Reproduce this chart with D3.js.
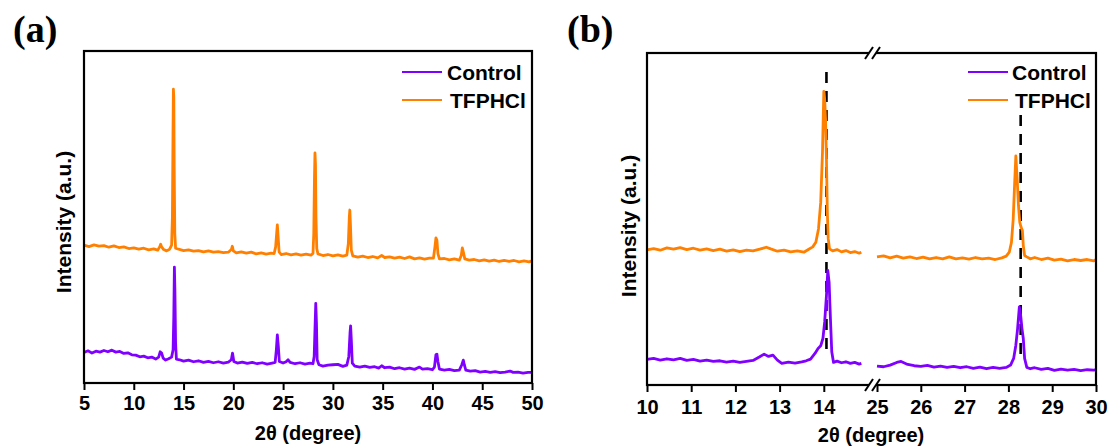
<!DOCTYPE html>
<html>
<head>
<meta charset="utf-8">
<script src="https://cdn.jsdelivr.net/npm/d3@7"></script>
<style>
  html, body { margin: 0; padding: 0; background: #fff; }
  svg { display: block; }
  text { font-family: "Liberation Sans", Arial, sans-serif; font-weight: bold; fill: #000; }
  .panel-tag { font-family: "Liberation Serif", "Times New Roman", serif; font-weight: bold; }
</style>
</head>
<body>
<svg id="chart" width="1112" height="446"></svg>
<script>
// ---------- data: [2θ (degree), intensity (a.u., offset-stacked)] ----------
const seriesNames = ["Control", "TFPHCl"];
const seriesColors = ["#8000FF", "#FF8000"];

// Panel (a): full scan 5–50°
const controlA = [
  [5.0,9.2],[5.4,9.7],[5.8,9.0],[6.2,9.6],[6.6,9.3],[7.0,9.8],[7.4,9.4],[7.8,9.9],[8.2,9.3],[8.6,9.5],
  [9.0,8.9],[9.4,9.1],[9.8,8.5],[10.2,8.4],[10.6,7.9],[11.0,8.1],[11.4,7.6],[11.8,7.8],[12.2,7.2],[12.5,7.8],
  [12.65,9.4],[12.8,9.0],[12.95,7.5],[13.2,6.9],[13.5,7.3],[13.8,7.8],[13.95,10],[14.02,20],[14.08,34.9],[14.13,28],
  [14.2,12],[14.28,7.2],[14.6,7.0],[15.0,6.6],[15.5,6.9],[16.0,6.4],[16.5,6.7],[17.0,6.2],[17.5,6.5],[18.0,6.1],
  [18.5,6.4],[19.0,6.0],[19.5,6.3],[19.8,7.0],[19.92,9.0],[20.05,6.5],[20.4,6.0],[20.9,6.3],[21.4,5.9],[21.9,6.2],
  [22.4,5.8],[22.9,6.1],[23.4,5.7],[23.9,6.0],[24.2,6.2],[24.32,10],[24.42,14.5],[24.52,11],[24.62,6.5],[25.0,6.0],
  [25.3,6.4],[25.5,7.0],[25.7,6.2],[26.2,5.8],[26.7,6.1],[27.2,5.7],[27.7,6.0],[28.0,5.8],[28.12,8],[28.2,16],
  [28.28,24.0],[28.35,18],[28.42,7],[28.6,5.5],[29.0,5.1],[29.5,5.4],[30.0,5.5],[30.5,5.6],[31.0,5.0],[31.4,5.4],
  [31.6,8],[31.72,15],[31.78,17.2],[31.85,13],[31.95,6],[32.2,5.1],[32.7,4.8],[33.2,5.1],[33.7,4.7],[34.2,4.9],
  [34.6,4.5],[34.9,5.2],[35.2,4.6],[35.7,4.8],[36.2,4.3],[36.7,4.6],[37.2,4.2],[37.7,4.5],[38.2,4.1],[38.7,4.8],
  [39.0,4.2],[39.5,4.3],[40.0,4.0],[40.2,4.8],[40.35,8.5],[40.45,8.7],[40.55,6.5],[40.7,4.2],[41.2,3.9],[41.7,4.1],
  [42.2,3.7],[42.7,3.9],[42.95,5.5],[43.1,6.9],[43.2,5.5],[43.35,3.9],[43.8,3.6],[44.3,3.7],[44.8,3.3],[45.3,3.5],
  [45.8,3.2],[46.3,3.4],[46.8,3.1],[47.3,3.3],[47.8,3.6],[48.1,3.2],[48.6,3.3],[49.1,3.0],[49.6,3.2],[50.0,3.2]
];
const tfphclA = [
  [5.0,41.5],[5.5,41.1],[6.0,41.6],[6.5,41.2],[7.0,41.4],[7.5,40.9],[8.0,41.3],[8.5,40.8],[9.0,41.0],[9.5,40.5],
  [10.0,40.7],[10.5,40.3],[11.0,40.6],[11.5,40.1],[12.0,40.4],[12.4,40.0],[12.6,41.0],[12.7,41.8],[12.8,41.0],[13.0,40.2],
  [13.3,39.8],[13.6,40.3],[13.8,41.5],[13.88,50],[13.94,75],[13.98,88.5],[14.02,86],[14.06,65],[14.12,45],[14.2,40.6],
  [14.5,40.3],[15.0,39.9],[15.5,40.1],[16.0,39.7],[16.5,39.9],[17.0,39.5],[17.5,39.8],[18.0,39.4],[18.5,39.6],[19.0,39.3],
  [19.5,39.4],[19.8,40.2],[19.9,41.2],[20.0,39.8],[20.3,39.2],[20.8,39.5],[21.3,39.1],[21.8,39.4],[22.3,38.9],[22.8,39.2],
  [23.3,38.8],[23.8,39.1],[24.1,39.0],[24.25,41],[24.35,45],[24.42,47.6],[24.5,44],[24.6,39.5],[24.8,38.7],[25.3,39.0],
  [25.8,38.6],[26.3,38.9],[26.8,38.5],[27.3,38.8],[27.8,38.5],[28.0,39.0],[28.08,45],[28.15,62],[28.2,69.3],[28.25,66],
  [28.3,50],[28.38,40.5],[28.5,38.9],[29.0,38.4],[29.5,38.7],[30.0,38.3],[30.5,38.6],[31.0,38.2],[31.4,38.5],[31.55,42],
  [31.65,50],[31.7,52.1],[31.76,48],[31.85,40],[32.0,38.3],[32.5,37.9],[33.0,38.2],[33.5,37.8],[34.0,38.1],[34.5,37.7],
  [34.9,38.4],[35.2,37.8],[35.7,38.0],[36.2,37.6],[36.7,37.9],[37.2,37.5],[37.7,38.0],[38.2,37.4],[38.7,37.7],[39.2,37.3],
  [39.7,37.6],[40.1,37.6],[40.25,41],[40.35,43.7],[40.45,43],[40.55,39],[40.7,37.4],[41.2,37.5],[41.7,37.1],[42.2,37.4],
  [42.7,37.0],[42.9,38.5],[43.0,40.7],[43.1,39.5],[43.25,37.4],[43.7,37.0],[44.2,37.2],[44.7,36.8],[45.2,37.1],[45.7,36.7],
  [46.2,37.0],[46.7,36.6],[47.2,36.9],[47.7,36.6],[48.2,36.9],[48.7,36.5],[49.2,36.8],[49.7,36.5],[50.0,36.8]
];

// Panel (b): zoom on 10–14.85° and 25–30° (broken axis)
const controlBLow = [
  [10.0,7.7],[10.15,8.0],[10.3,7.5],[10.45,7.9],[10.6,7.6],[10.75,8.0],[10.9,7.4],[11.05,7.7],[11.2,7.2],[11.35,7.5],
  [11.5,7.1],[11.65,7.3],[11.8,6.9],[11.95,7.2],[12.1,6.8],[12.25,7.1],[12.4,7.4],[12.55,8.5],[12.65,9.3],[12.75,8.6],
  [12.85,9.0],[12.95,7.5],[13.05,6.5],[13.2,6.9],[13.35,6.6],[13.5,7.0],[13.6,7.3],[13.7,7.8],[13.8,9.5],[13.87,11.0],
  [13.93,11.8],[13.98,14],[14.02,19],[14.06,27],[14.09,34.5],[14.12,31],[14.15,20],[14.18,10],[14.22,6.8],[14.3,7.2],
  [14.4,6.7],[14.5,7.0],[14.6,6.5],[14.7,6.8],[14.8,6.3],[14.85,6.5]
];
const controlBHigh = [
  [25.0,5.7],[25.15,5.5],[25.3,6.0],[25.45,6.8],[25.55,7.1],[25.7,6.2],[25.85,5.8],[26.0,5.6],[26.15,5.9],[26.3,5.4],
  [26.45,5.7],[26.6,5.3],[26.75,5.6],[26.9,5.2],[27.05,5.5],[27.2,5.0],[27.35,5.4],[27.5,4.9],[27.65,5.3],[27.8,5.0],
  [27.95,5.3],[28.05,6.0],[28.12,8],[28.17,12],[28.21,17],[28.25,23.5],[28.28,21],[28.31,17],[28.34,14],[28.37,8],
  [28.42,5.3],[28.5,4.9],[28.6,5.2],[28.75,4.7],[28.9,5.0],[29.05,4.4],[29.2,4.8],[29.35,4.5],[29.5,4.7],[29.65,4.3],
  [29.8,4.6],[29.95,4.5],[30.0,4.6]
];
const tfphclBLow = [
  [10.0,40.7],[10.15,41.1],[10.3,40.6],[10.45,41.3],[10.6,40.9],[10.75,41.4],[10.9,40.8],[11.05,41.2],[11.2,40.6],[11.35,41.0],
  [11.5,40.5],[11.65,40.9],[11.8,40.3],[11.95,40.7],[12.1,40.2],[12.25,40.6],[12.4,40.4],[12.55,40.9],[12.7,41.5],[12.8,41.0],
  [12.95,40.3],[13.1,40.6],[13.25,40.1],[13.4,40.4],[13.55,40.0],[13.65,40.8],[13.75,41.6],[13.82,43],[13.88,47],[13.93,55],
  [13.97,70],[14.0,88.4],[14.02,86],[14.04,80],[14.06,68],[14.08,52],[14.1,44],[14.13,41.0],[14.2,40.4],[14.3,40.8],
  [14.4,40.1],[14.5,40.5],[14.6,39.9],[14.7,40.2],[14.8,39.7],[14.85,40.0]
];
const tfphclBHigh = [
  [25.0,38.6],[25.15,38.9],[25.3,38.3],[25.45,38.8],[25.6,38.2],[25.75,38.6],[25.9,38.1],[26.05,38.5],[26.2,38.0],[26.35,38.4],
  [26.5,38.0],[26.65,38.6],[26.8,38.0],[26.95,38.3],[27.1,37.9],[27.25,38.4],[27.4,38.0],[27.55,38.2],[27.7,37.8],[27.85,38.3],
  [27.95,38.8],[28.02,40],[28.07,43],[28.11,50],[28.14,60],[28.17,69],[28.2,62],[28.23,54],[28.26,49],[28.29,47.5],
  [28.32,46.5],[28.34,42],[28.37,39],[28.42,38.6],[28.5,38.0],[28.6,38.4],[28.75,37.8],[28.9,38.2],[29.05,37.6],[29.2,37.9],
  [29.35,37.4],[29.5,37.8],[29.65,37.5],[29.8,37.8],[29.95,37.4],[30.0,37.8]
];

// Reference lines through the Control peak positions (2θ, top, bottom)
const refLines = [[14.06, 94.3, 8.5], [28.28, 81.3, 8.5]];

// Tick values
const ticksA = [5, 10, 15, 20, 25, 30, 35, 40, 45, 50];
const minorTicksA = [7.5, 12.5, 17.5, 22.5, 27.5, 32.5, 37.5, 42.5, 47.5];
const ticksB = [10, 11, 12, 13, 14, 25, 26, 27, 28, 29, 30];
const minorTicksB = [10.5, 11.5, 12.5, 13.5, 14.5, 25.5, 26.5, 27.5, 28.5, 29.5];

// ---------- drawing ----------
const svg = d3.select("#chart");

const xA = d3.scaleLinear().domain([5, 50]).range([84, 532]);
const yA = d3.scaleLinear().domain([0, 100]).range([383, 51]);
const xB = d3.scaleLinear().domain([10, 15, 25, 30]).range([647, 868, 877, 1096]);
const yB = d3.scaleLinear().domain([0, 100]).range([385, 53]);

function drawSeries(g, data, x, y, color) {
  const line = d3.line().x(d => x(d[0])).y(d => y(d[1]));
  g.append("path").datum(data)
    .attr("fill", "none").attr("stroke", color)
    .attr("stroke-width", 2.8).attr("stroke-linejoin", "round")
    .attr("d", line);
}

function drawXAxis(g, x, y0, major, minor, pad) {
  const ax = g.append("g").attr("transform", `translate(0,${y0})`);
  ax.call(d3.axisBottom(x).tickValues(minor).tickSize(4).tickFormat(""));
  ax.call(d3.axisBottom(x).tickValues(major).tickSize(7).tickPadding(pad).tickFormat(d3.format("d")));
  ax.selectAll(".domain").remove();
  ax.selectAll("line").attr("stroke", "#000").attr("stroke-width", 2);
  ax.selectAll("text").style("font-size", "20px").style("font-family", "'Liberation Sans', Arial, sans-serif")
    .style("font-weight", "bold").attr("fill", "#000");
}

function drawLegend(g, x0, y0, textX) {
  seriesNames.forEach((name, i) => {
    const yy = y0 + i * 28;
    g.append("line").attr("x1", x0).attr("x2", x0 + 40).attr("y1", yy).attr("y2", yy)
      .attr("stroke", seriesColors[i]).attr("stroke-width", 2.2);
    g.append("text").attr("x", textX + i * 3).attr("y", yy + 7.5)
      .style("font-size", "21px").text(name);
  });
}

// ----- panel (a) -----
const gA = svg.append("g");
drawSeries(gA, tfphclA, xA, yA, seriesColors[1]);
drawSeries(gA, controlA, xA, yA, seriesColors[0]);
gA.append("rect").attr("x", 84).attr("y", 51).attr("width", 448).attr("height", 332)
  .attr("fill", "none").attr("stroke", "#000").attr("stroke-width", 2.2);
drawXAxis(gA, xA, 383, ticksA, minorTicksA, 6);
gA.append("text").attr("x", 308).attr("y", 440).attr("text-anchor", "middle")
  .style("font-size", "20px").text("2θ (degree)");
gA.append("text").attr("transform", "translate(71,222) rotate(-90)").attr("text-anchor", "middle")
  .style("font-size", "21px").text("Intensity (a.u.)");
drawLegend(gA, 402, 72, 447);
gA.append("text").attr("class", "panel-tag").attr("x", 13).attr("y", 42)
  .style("font-size", "38px").text("(a)");

// ----- panel (b) -----
const gB = svg.append("g");
gB.selectAll("path.ref").data(refLines).enter().append("line")
  .attr("x1", d => xB(d[0])).attr("x2", d => xB(d[0]))
  .attr("y1", d => yB(d[1])).attr("y2", d => yB(d[2]))
  .attr("stroke", "#000").attr("stroke-width", 2.6).attr("stroke-dasharray", "11,8");
[tfphclBLow, tfphclBHigh].forEach(s => drawSeries(gB, s, xB, yB, seriesColors[1]));
[controlBLow, controlBHigh].forEach(s => drawSeries(gB, s, xB, yB, seriesColors[0]));
gB.append("rect").attr("x", 647).attr("y", 53).attr("width", 449).attr("height", 332)
  .attr("fill", "none").attr("stroke", "#000").attr("stroke-width", 2.2);
drawXAxis(gB, xB, 385, ticksB, minorTicksB, 8);

// axis break marks on the top and bottom frame lines
const breakX = (xB(15) + xB(25)) / 2;
[53, 385].forEach(yy => {
  gB.append("rect").attr("x", breakX - 3.5).attr("y", yy - 3).attr("width", 7).attr("height", 6).attr("fill", "#fff");
  [-3.5, 3.5].forEach(dx => {
    gB.append("line")
      .attr("x1", breakX + dx - 4).attr("y1", yy + 6)
      .attr("x2", breakX + dx + 4).attr("y2", yy - 6)
      .attr("stroke", "#000").attr("stroke-width", 2);
  });
});

gB.append("text").attr("x", 871).attr("y", 442).attr("text-anchor", "middle")
  .style("font-size", "20px").text("2θ (degree)");
gB.append("text").attr("transform", "translate(636,226) rotate(-90)").attr("text-anchor", "middle")
  .style("font-size", "21px").text("Intensity (a.u.)");
drawLegend(gB, 968, 72, 1012);
gB.append("text").attr("class", "panel-tag").attr("x", 567).attr("y", 42)
  .style("font-size", "38px").text("(b)");
</script>
</body>
</html>
